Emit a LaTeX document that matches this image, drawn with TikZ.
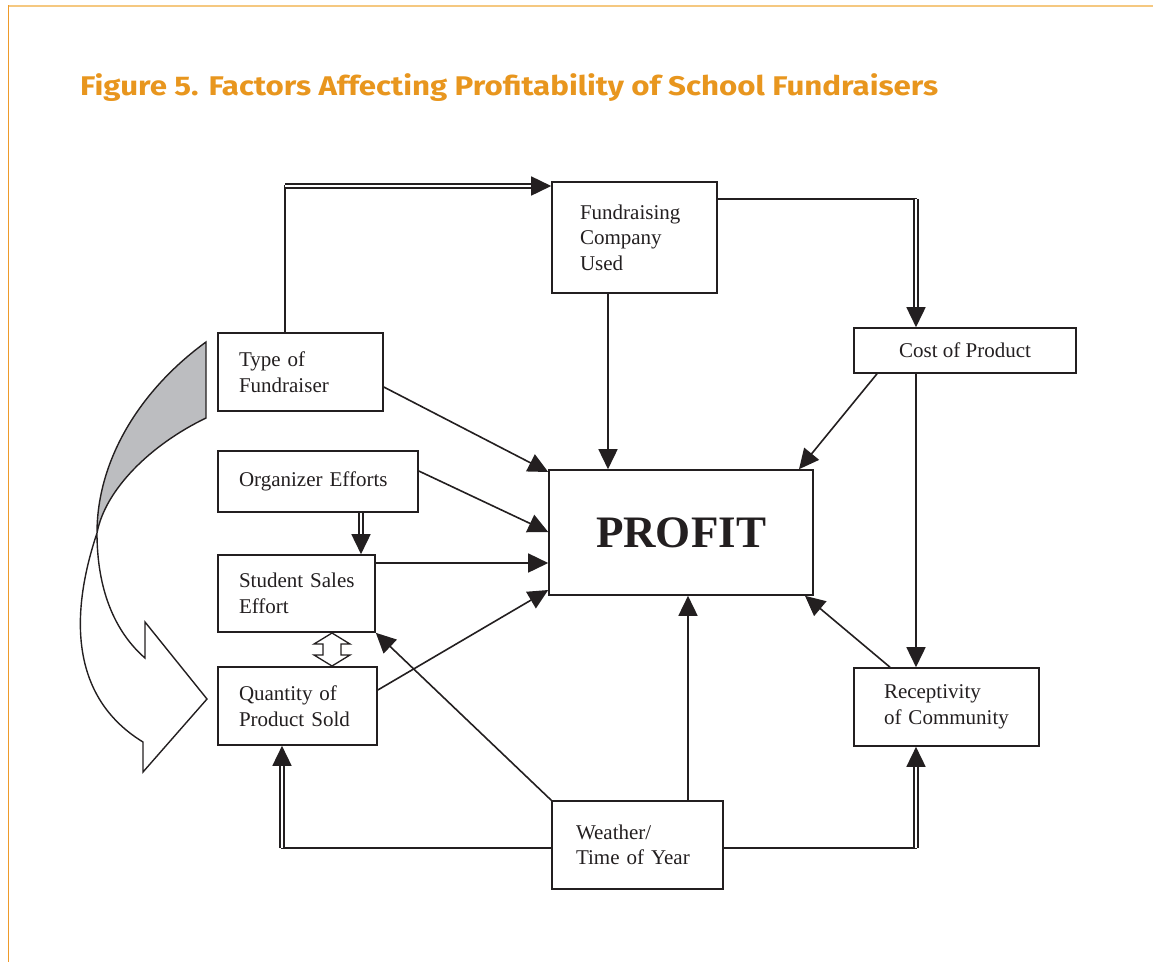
\documentclass[tikz,border=0pt]{standalone}
\usepackage{fontspec}
\usepackage{graphicx}
\setmainfont{Liberation Serif}
\newfontfamily\titlefont{Fira Sans}
\usetikzlibrary{arrows.meta,calc}
\definecolor{ink}{HTML}{231F20}
\definecolor{titleorange}{HTML}{E8961E}
\definecolor{topline}{HTML}{F5C880}
\definecolor{leftline}{HTML}{EE9A2A}
\definecolor{ribbon}{HTML}{BCBDC0}
\tikzset{
  ln/.style={draw=ink, line width=1.6pt},
  arr/.style={ln, -{Triangle[length=20pt,width=19pt]}},
  dbl/.style={draw=ink, double=white, double distance=2.4pt, line width=1.5pt},
  box/.style={draw=ink, line width=1.6pt, fill=white, align=left, inner ysep=0pt,
    font=\fontsize{21}{25.5}\selectfont, text=ink},
}
\begin{document}
\begin{tikzpicture}[x=1pt,y=-1pt]
\useasboundingbox (0,0) rectangle (1153,962);
% frame lines
\draw[topline, line width=2.5pt] (8,6) -- (1153,6);
\draw[leftline, line width=1.6pt] (8.5,5) -- (8.5,962);
% title
\node[anchor=base west, inner sep=0pt, text=titleorange] (title) at (80,95)
  {\resizebox{858pt}{\height}{\titlefont\bfseries\fontsize{27}{30}\selectfont Figure 5. Factors Affecting Profitability of School Fundraisers}};

% boxes
\node[box, minimum width=165pt, minimum height=111pt, inner xsep=28pt, text width=109pt] (fund) at (634.5,237.5) {Fundraising\\Company\\Used};
\node[box, minimum width=222pt, minimum height=45pt, align=center] (cost) at (965,350.5) {Cost of Product};
\node[box, minimum width=165pt, minimum height=78pt, inner xsep=21pt, text width=123pt] (type) at (300.5,372) {Type of\\Fundraiser};
\node[box, minimum width=200pt, minimum height=61pt, inner xsep=21pt, text width=158pt] (org) at (318,481.5) {Organizer Efforts};
\node[box, minimum width=157pt, minimum height=77pt, inner xsep=21pt, text width=115pt] (stud) at (296.5,593.5) {Student~Sales\\Effort};
\node[box, minimum width=159pt, minimum height=78pt, inner xsep=21pt, text width=117pt] (qty) at (297.5,706) {Quantity of\\Product~Sold};
\node[box, minimum width=264pt, minimum height=125pt, align=center, font=\fontsize{45}{50}\selectfont\bfseries] (profit) at (681,532.5) {PROFIT};
\node[box, minimum width=185pt, minimum height=78pt, inner xsep=30pt, text width=125pt] (recep) at (946.5,707) {Receptivity\\of~Community};
\node[box, minimum width=171pt, minimum height=88pt, inner xsep=24pt, text width=123pt] (weather) at (637.5,845) {Weather/\\Time~of~Year};

% corner coordinates
\coordinate (tcorner) at (285,186);
\coordinate (fcorner) at (916,199);
\coordinate (wlcorner) at (282,848);
\coordinate (wrcorner) at (916,848);

% Type of Fundraiser -> Fundraising Company (double)
\draw[ln] (type.north -| tcorner) -- ([yshift=1pt]tcorner);
\draw[dbl] (tcorner) -- ([xshift=-18pt]fund.west |- tcorner);
\draw[arr] ([xshift=-20pt]fund.west |- tcorner) -- (fund.west |- tcorner);

% Fundraising Company -> Cost of Product (double)
\draw[ln] (fund.east |- fcorner) -- ([xshift=1pt]fcorner);
\draw[dbl] (fcorner) -- ([yshift=18pt]cost.north -| fcorner);
\draw[arr] ([yshift=20pt]cost.north -| fcorner) -- (cost.north -| fcorner);

% single arrows into PROFIT
\draw[arr] (fund.south -| 608,0) -- (profit.north -| 608,0);
\draw[arr] (cost.south -| 877,0) -- (profit.north -| 799,0);
\draw[arr] (type.east |- 0,387) -- (profit.west |- 0,472);
\draw[arr] (org.east |- 0,471) -- (profit.west |- 0,532);
\draw[arr] (stud.east |- 0,563) -- (profit.west |- 0,563);
\draw[arr] (qty.east |- 0,690) -- (profit.west |- 0,590);
\draw[arr] (weather.north -| 688,0) -- (profit.south -| 688,0);
\draw[arr] (recep.north -| 890,0) -- (profit.south -| 805,0);

% Cost -> Receptivity
\draw[arr] (cost.south -| 916,0) -- (recep.north -| 916,0);

% Weather -> Student Sales
\draw[arr] (weather.north west) -- (stud.south east);

% Organizer -> Student Sales (double)
\draw[dbl] (org.south -| 361,0) -- ([yshift=18pt]stud.north -| 361,0);
\draw[arr] ([yshift=20pt]stud.north -| 361,0) -- (stud.north -| 361,0);

% Weather -> Quantity (double)
\draw[ln] (weather.west |- wlcorner) -- ([xshift=-1pt]wlcorner);
\draw[dbl] (wlcorner) -- ([yshift=-18pt]qty.south -| wlcorner);
\draw[arr] ([yshift=-20pt]qty.south -| wlcorner) -- (qty.south -| wlcorner);

% Weather -> Receptivity (double)
\draw[ln] (weather.east |- wrcorner) -- ([xshift=1pt]wrcorner);
\draw[dbl] (wrcorner) -- ([yshift=-18pt]recep.south -| wrcorner);
\draw[arr] ([yshift=-20pt]recep.south -| wrcorner) -- (recep.south -| wrcorner);

% hollow two-way arrow between Student Sales and Quantity
\draw[draw=ink, line width=1.3pt, fill=white, line join=miter]
  (332,633) -- (350,644) -- (341,644) -- (341,655) -- (350,655) -- (332,666)
  -- (314,655) -- (323,655) -- (323,644) -- (314,644) -- cycle;

% big curved ribbon arrow
\fill[ribbon] (206,342) .. controls (140,390) and (97,460) .. (97,533)
  .. controls (105,490) and (150,445) .. (206,418) -- cycle;
\draw[draw=ink, line width=1.4pt, line join=miter]
  (206,342) .. controls (140,390) and (97,460) .. (97,533)
  .. controls (97,590) and (115,632) .. (145,658)
  -- (145,622) -- (207,699) -- (143,772) -- (143,742)
  .. controls (58,690) and (78,590) .. (97,533)
  .. controls (105,490) and (150,445) .. (206,418) -- cycle;
\end{tikzpicture}
\end{document}
